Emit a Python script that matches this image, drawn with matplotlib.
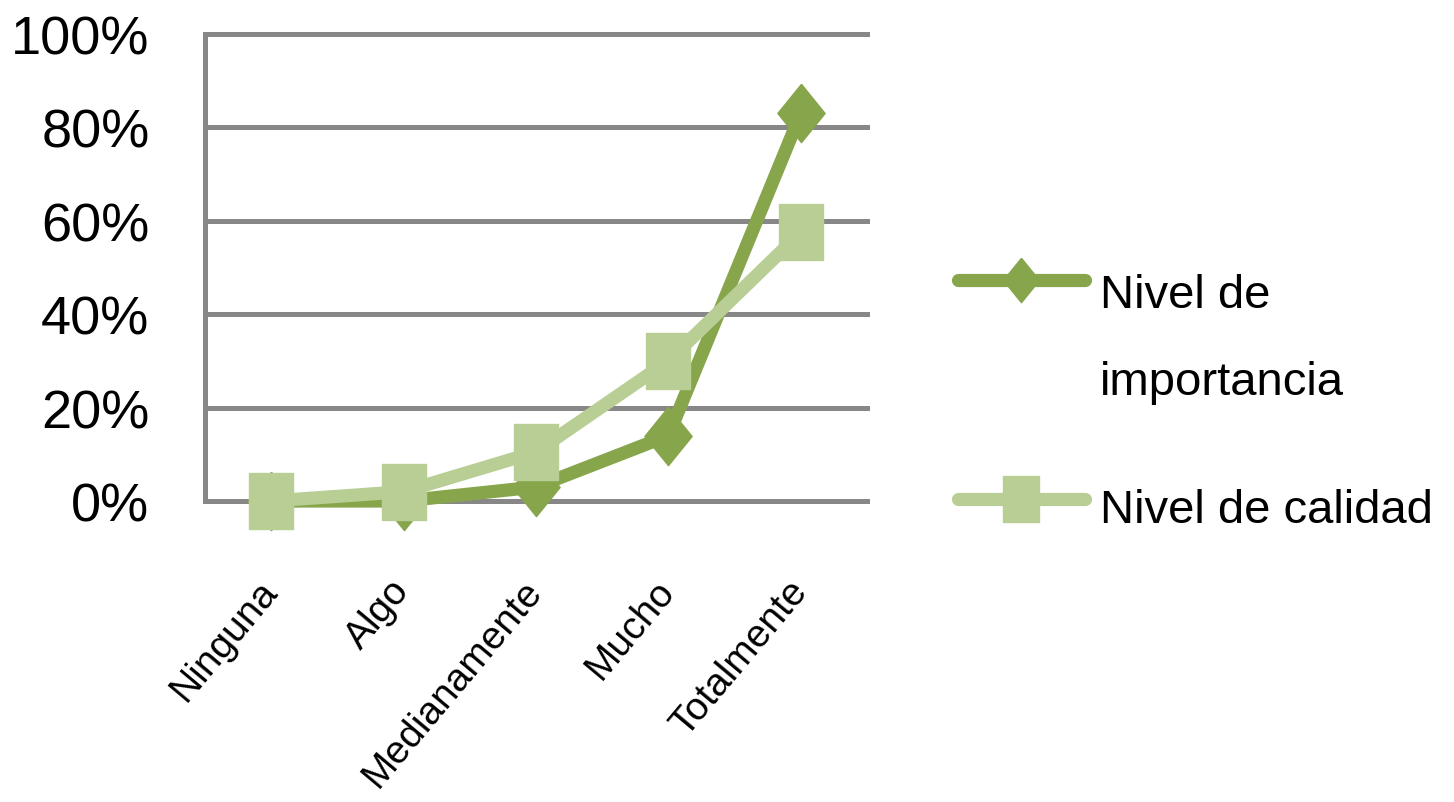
import matplotlib
matplotlib.use('Agg')
import matplotlib.pyplot as plt
from matplotlib.lines import Line2D
from matplotlib.ticker import PercentFormatter

plt.rcParams['font.family'] = ['Liberation Sans', 'DejaVu Sans']

categories = ['Ninguna', 'Algo', 'Medianamente', 'Mucho', 'Totalmente']
importancia = [0, 0, 3, 14, 83]
calidad = [0, 2, 10.5, 30, 57.5]
labels = ['Nivel de\nimportancia', 'Nivel de calidad']

dark = '#87A64C'
light = '#B8CE95'
grid_c = '#878787'

# tall markers (the original picture is stretched vertically)
diamond = [(0, 1), (0.81, 0), (0, -1), (-0.81, 0), (0, 1)]
square = [(-0.77, -1), (0.77, -1), (0.77, 1), (-0.77, 1), (-0.77, -1)]

fig = plt.figure(figsize=(14.54, 8.03), dpi=100)
ax = fig.add_axes([205/1454, 1 - 502/803, (867-205)/1454, (502-35)/803])

x = list(range(len(categories)))
ax.plot(x, importancia, color=dark, lw=9.5, marker=diamond, ms=42,
        mfc=dark, mec=dark, zorder=3, solid_joinstyle='round', clip_on=False)
ax.plot(x, calidad, color=light, lw=9.5, marker=square, ms=41,
        mfc=light, mec=light, zorder=4, solid_joinstyle='round', clip_on=False)

ax.set_xlim(-0.5, len(categories) - 0.5)
ax.set_ylim(0, 100)
ax.set_yticks([0, 20, 40, 60, 80, 100])
ax.yaxis.set_major_formatter(PercentFormatter(decimals=0))
ax.set_xticks(x)
ax.set_xticklabels(categories, rotation=50, ha='right', rotation_mode='anchor')
ax.tick_params(axis='y', length=0, pad=40, labelsize=39)
ax.tick_params(axis='x', length=0, pad=60, labelsize=28)
for t in ax.get_xticklabels():
    t.set_va('center')

ax.grid(axis='y', color=grid_c, lw=3.6, zorder=1)
for gl in ax.get_ygridlines():
    gl.set_clip_on(False)
ax.set_axisbelow(True)
for s in ['top', 'right', 'bottom']:
    ax.spines[s].set_visible(False)
ax.spines['left'].set_color(grid_c)
ax.spines['left'].set_linewidth(3.6)

# legend drawn by hand so the handle sits on the first text line
W, H = 1454, 803
for y_px, col, mk, ms in [(281, dark, diamond, 32), (500, light, square, 33)]:
    fig.add_artist(Line2D([958/W, 1085/W], [1 - y_px/H] * 2, color=col, lw=9.5,
                          solid_capstyle='round'))
    fig.add_artist(Line2D([1021/W], [1 - y_px/H], marker=mk, ms=ms, mfc=col, mec=col,
                          linestyle='none'))
fig.text(1100/W, 1 - 308/H, 'Nivel de', fontsize=34, va='baseline')
fig.text(1100/W, 1 - 395/H, 'importancia', fontsize=34, va='baseline')
fig.text(1100/W, 1 - 523/H, labels[1], fontsize=34, va='baseline')

fig.savefig('out.png', dpi=100)
